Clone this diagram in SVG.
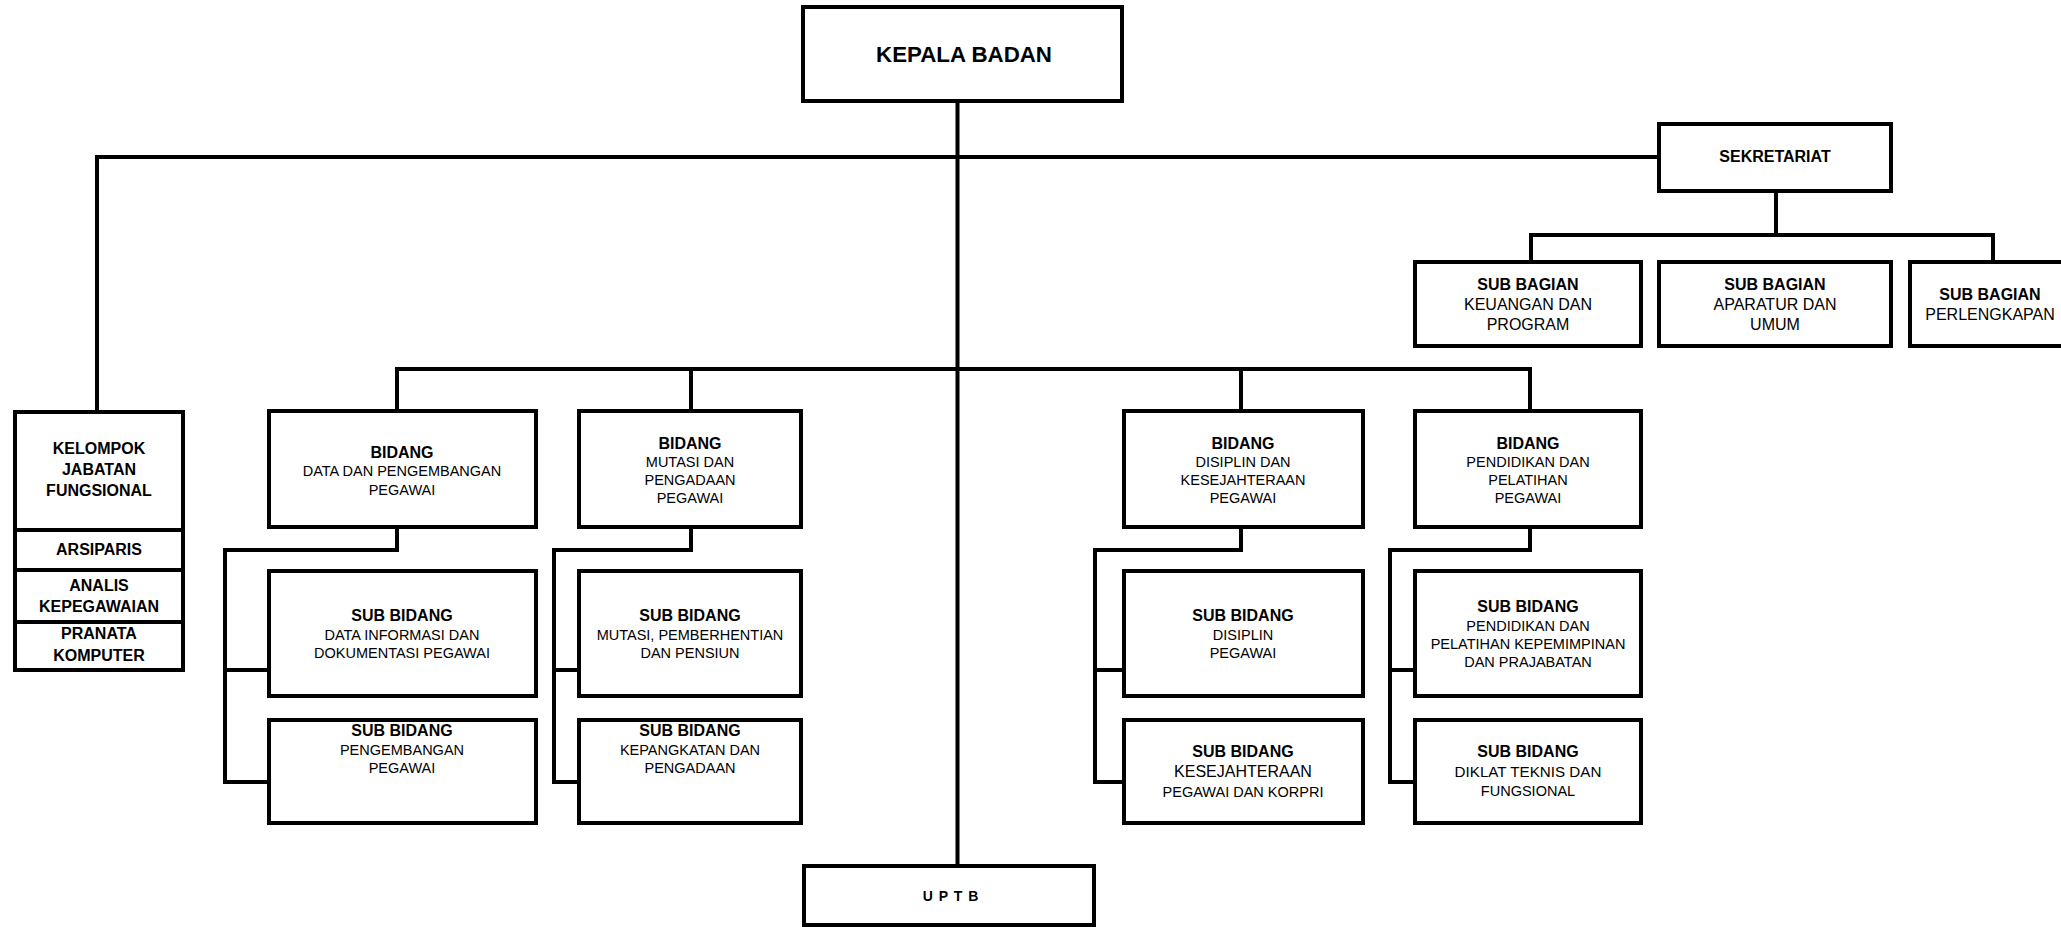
<svg xmlns="http://www.w3.org/2000/svg" width="2061" height="927" viewBox="0 0 2061 927">
<style>
.box{fill:#fff;stroke:#000;stroke-width:4}
.ln{fill:none;stroke:#000;stroke-width:4;stroke-linejoin:miter;stroke-linecap:square}
text{font-family:"Liberation Sans",Arial,sans-serif;text-anchor:middle;fill:#000}
.b{font-size:16px;font-weight:bold}
.r{font-size:14.5px}
.r15{font-size:15.2px}
.r16{font-size:16px}
</style>
<rect width="2061" height="927" fill="#fff"/>
<g id="connectors">
<path class="ln" d="M957.5 103 V864"/>
<path class="ln" d="M97 157 H1657"/>
<path class="ln" d="M97 157 V410"/>
<path class="ln" d="M1776 193 V235"/>
<path class="ln" d="M1531 260 V235 H1993 V260"/>
<path class="ln" d="M397 409 V369 H1530 V409"/>
<path class="ln" d="M691 369 V409"/>
<path class="ln" d="M1241 369 V409"/>
<path class="ln" d="M397 529 V550 H225 V782 H267"/>
<path class="ln" d="M225 670 H267"/>
<path class="ln" d="M691 529 V550 H554 V782 H577"/>
<path class="ln" d="M554 670 H577"/>
<path class="ln" d="M1241 529 V550 H1095 V782 H1122"/>
<path class="ln" d="M1095 670 H1122"/>
<path class="ln" d="M1530 529 V550 H1390 V782 H1413"/>
<path class="ln" d="M1390 670 H1413"/>
</g>
<g id="kepala-badan">
<rect class="box" x="803" y="7" width="319" height="94"/>
<text x="964" y="62" style="font-size:22.3px;font-weight:bold">KEPALA BADAN</text>
</g>
<g id="sekretariat">
<rect class="box" x="1659" y="124" width="232" height="67"/>
<text class="b" x="1775" y="162">SEKRETARIAT</text>
</g>
<g id="sub-bagian-keuangan">
<rect class="box" x="1415" y="262" width="226" height="84"/>
<text class="b" x="1528" y="289.5">SUB BAGIAN</text>
<text class="r16" x="1528" y="309.5">KEUANGAN DAN</text>
<text class="r16" x="1528" y="329.5">PROGRAM</text>
</g>
<g id="sub-bagian-aparatur">
<rect class="box" x="1659" y="262" width="232" height="84"/>
<text class="b" x="1775" y="289.5">SUB BAGIAN</text>
<text class="r16" x="1775" y="309.5">APARATUR DAN</text>
<text class="r16" x="1775" y="329.5">UMUM</text>
</g>
<g id="sub-bagian-perlengkapan">
<rect class="box" x="1910" y="262" width="162" height="84"/>
<text class="b" x="1990" y="300">SUB BAGIAN</text>
<text class="r16" x="1990" y="320">PERLENGKAPAN</text>
</g>
<g id="kelompok-jabatan-fungsional">
<rect class="box" x="15" y="412" width="168" height="258"/>
<path class="ln" d="M15 530 H183 M15 570 H183 M15 622 H183" style="stroke-linecap:butt"/>
<text class="b" x="99" y="454">KELOMPOK</text>
<text class="b" x="99" y="475">JABATAN</text>
<text class="b" x="99" y="496">FUNGSIONAL</text>
<text class="b" x="99" y="555">ARSIPARIS</text>
<text class="b" x="99" y="591">ANALIS</text>
<text class="b" x="99" y="612">KEPEGAWAIAN</text>
<text class="b" x="99" y="639">PRANATA</text>
<text class="b" x="99" y="661">KOMPUTER</text>
</g>
<g id="bidang-data">
<rect class="box" x="269" y="411" width="267" height="116"/>
<text class="b" x="402" y="457.5">BIDANG</text>
<text class="r" x="402" y="476">DATA DAN PENGEMBANGAN</text>
<text class="r" x="402" y="494.5">PEGAWAI</text>
</g>
<g id="bidang-mutasi">
<rect class="box" x="579" y="411" width="222" height="116"/>
<text class="b" x="690" y="448.5">BIDANG</text>
<text class="r" x="690" y="467">MUTASI DAN</text>
<text class="r" x="690" y="485">PENGADAAN</text>
<text class="r" x="690" y="503">PEGAWAI</text>
</g>
<g id="bidang-disiplin">
<rect class="box" x="1124" y="411" width="239" height="116"/>
<text class="b" x="1243" y="448.5">BIDANG</text>
<text class="r" x="1243" y="467">DISIPLIN DAN</text>
<text class="r" x="1243" y="485">KESEJAHTERAAN</text>
<text class="r" x="1243" y="503">PEGAWAI</text>
</g>
<g id="bidang-pendidikan">
<rect class="box" x="1415" y="411" width="226" height="116"/>
<text class="b" x="1528" y="448.5">BIDANG</text>
<text class="r" x="1528" y="467">PENDIDIKAN DAN</text>
<text class="r" x="1528" y="485">PELATIHAN</text>
<text class="r" x="1528" y="503">PEGAWAI</text>
</g>
<g id="sub-bidang-data-informasi">
<rect class="box" x="269" y="571" width="267" height="125"/>
<text class="b" x="402" y="621">SUB BIDANG</text>
<text class="r" x="402" y="640">DATA INFORMASI DAN</text>
<text class="r" x="402" y="658">DOKUMENTASI PEGAWAI</text>
</g>
<g id="sub-bidang-pengembangan">
<rect class="box" x="269" y="720" width="267" height="103"/>
<text class="b" x="402" y="736">SUB BIDANG</text>
<text class="r" x="402" y="755">PENGEMBANGAN</text>
<text class="r" x="402" y="773">PEGAWAI</text>
</g>
<g id="sub-bidang-mutasi">
<rect class="box" x="579" y="571" width="222" height="125"/>
<text class="b" x="690" y="621">SUB BIDANG</text>
<text class="r" x="690" y="640">MUTASI, PEMBERHENTIAN</text>
<text class="r" x="690" y="658">DAN PENSIUN</text>
</g>
<g id="sub-bidang-kepangkatan">
<rect class="box" x="579" y="720" width="222" height="103"/>
<text class="b" x="690" y="736">SUB BIDANG</text>
<text class="r" x="690" y="755">KEPANGKATAN DAN</text>
<text class="r" x="690" y="773">PENGADAAN</text>
</g>
<g id="sub-bidang-disiplin">
<rect class="box" x="1124" y="571" width="239" height="125"/>
<text class="b" x="1243" y="621">SUB BIDANG</text>
<text class="r" x="1243" y="640">DISIPLIN</text>
<text class="r" x="1243" y="658">PEGAWAI</text>
</g>
<g id="sub-bidang-kesejahteraan">
<rect class="box" x="1124" y="720" width="239" height="103"/>
<text class="b" x="1243" y="757">SUB BIDANG</text>
<text class="r16" x="1243" y="777">KESEJAHTERAAN</text>
<text class="r" x="1243" y="796.5">PEGAWAI DAN KORPRI</text>
</g>
<g id="sub-bidang-pendidikan">
<rect class="box" x="1415" y="571" width="226" height="125"/>
<text class="b" x="1528" y="612">SUB BIDANG</text>
<text class="r" x="1528" y="630.5">PENDIDIKAN DAN</text>
<text class="r" x="1528" y="648.5">PELATIHAN KEPEMIMPINAN</text>
<text class="r" x="1528" y="666.5">DAN PRAJABATAN</text>
</g>
<g id="sub-bidang-diklat">
<rect class="box" x="1415" y="720" width="226" height="103"/>
<text class="b" x="1528" y="757">SUB BIDANG</text>
<text class="r15" x="1528" y="777">DIKLAT TEKNIS DAN</text>
<text class="r" x="1528" y="796">FUNGSIONAL</text>
</g>
<g id="uptb">
<rect class="box" x="804" y="866" width="290" height="59"/>
<text x="951" y="900.5" style="font-size:14px;font-weight:bold;letter-spacing:1px">U P T B</text>
</g>
</svg>
